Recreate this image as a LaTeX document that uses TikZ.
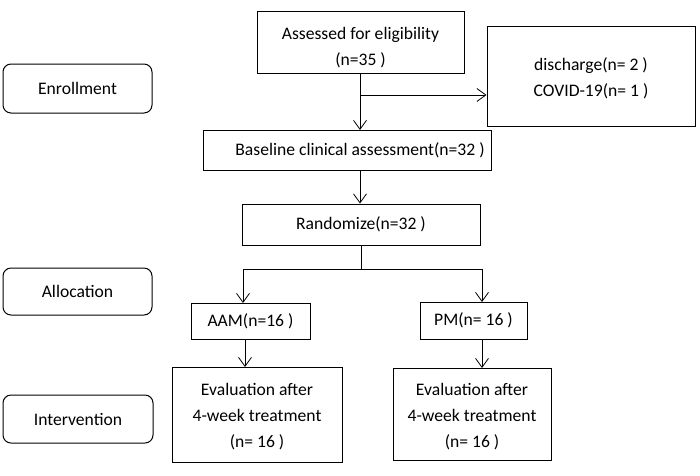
\documentclass[tikz,border=0pt]{standalone}
\usepackage{fontspec}
\setmainfont{Carlito}
\usetikzlibrary{arrows.meta}
\newcommand\dnstrut[1]{\rule{0pt}{#1}}
\begin{document}
\begin{tikzpicture}[x=1pt,y=-1pt,
  every node/.style={font=\fontsize{17.6}{26}\selectfont, inner sep=0pt, align=center},
  box/.style={draw, line width=1pt},
  stage/.style={draw, line width=1pt, rounded corners=8pt},
  conn/.style={line width=0.8pt},
  arr/.style={conn, -{Straight Barb[length=9pt,width=13pt,line width=0.8pt]}}]
\useasboundingbox (0,0) rectangle (700,475);
% stage labels
\node[stage, minimum width=149pt, minimum height=49pt] (enr) at (77.5,88.5) {Enrollment};
\node[stage, minimum width=149pt, minimum height=47pt] (alo) at (77.5,291.5) {Allocation};
\node[stage, minimum width=150pt, minimum height=48pt] (int) at (78,419) {Intervention};
% flow boxes
\node[box, minimum width=207pt, minimum height=62pt] (ass) at (360.5,42) {\dnstrut{24pt}Assessed for eligibility\\(n=35 )};
\node[box, minimum width=208pt, minimum height=100pt] (exc) at (591,76) {\dnstrut{18pt}discharge(n= 2 )\\COVID-19(n= 1 )};
\node[box, minimum width=288pt, minimum height=40pt] (base) at (347,150.5) {\hspace*{26pt}Baseline clinical assessment(n=32 )};
\node[box, minimum width=238pt, minimum height=41pt] (rand) at (361,224.5) {Randomize(n=32 )};
\node[box, minimum width=119pt, minimum height=36pt] (aam) at (250.5,321) {AAM(n=16 )};
\node[box, minimum width=107pt, minimum height=37pt] (pm) at (473.5,320.5) {PM(n= 16 )};
\node[box, minimum width=170pt, minimum height=95pt] (ev1) at (257,414.5) {\dnstrut{17pt}Evaluation after\\4-week treatment\\(n= 16 )};
\node[box, minimum width=158pt, minimum height=92pt] (ev2) at (472,414) {\dnstrut{17pt}Evaluation after\\4-week treatment\\(n= 16 )};
% connectors
\coordinate (j1) at (360,95);
\draw[arr] (360,73) -- (360,130);
\draw[arr] (j1) -- (exc.west |- j1);
\draw[arr] (base.south -| 360,0) -- (rand.north -| 360,0);
\coordinate (sp) at (361,269);
\draw[conn] (rand.south) -- (sp);
\draw[arr] (sp) -| (243,303);
\draw[arr] (sp) -| (482,302);
\draw[arr] (245,339) -- (245,367);
\draw[arr] (482,339) -- (482,368);
\end{tikzpicture}
\end{document}
